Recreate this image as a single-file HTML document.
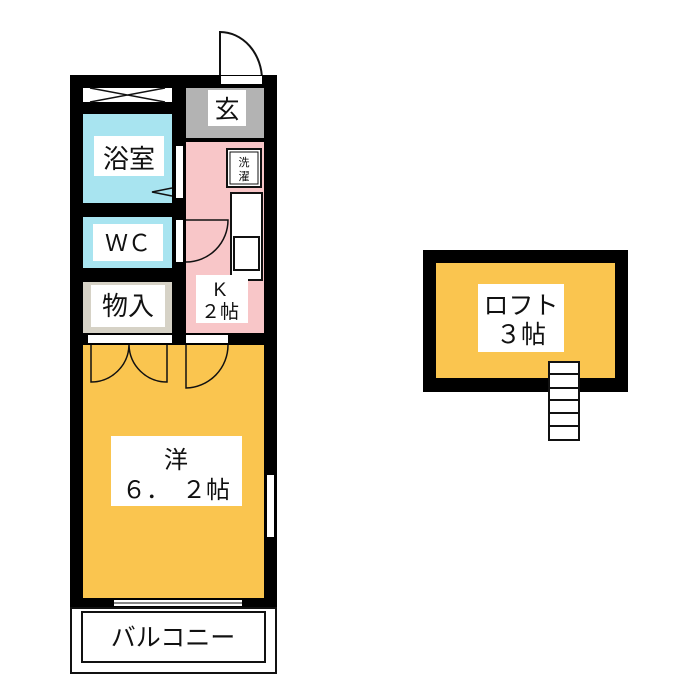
<!DOCTYPE html>
<html><head><meta charset="utf-8"><style>
html,body{margin:0;padding:0;background:#fff;width:700px;height:700px;overflow:hidden}
text{font-family:"Liberation Sans","Noto Sans CJK JP",sans-serif;fill:#111}
</style></head><body>
<svg width="700" height="700" viewBox="0 0 700 700" xmlns="http://www.w3.org/2000/svg">
<path d="M220 80 V32 A42 48 0 0 1 262 80" fill="none" stroke="#111" stroke-width="2"/>
<rect x="70" y="75" width="207" height="533" fill="#000"/>
<rect x="71" y="608" width="205" height="65" fill="#fff" stroke="#111" stroke-width="2"/>
<rect x="82" y="612" width="183" height="50" fill="#fff" stroke="#111" stroke-width="2"/>
<rect x="221" y="76" width="41" height="8" fill="#fff"/>
<rect x="83" y="88" width="89" height="14" fill="#fff"/>
<path d="M90 88 L165 102 M90 102 L165 88" stroke="#111" stroke-width="1.5"/>
<rect x="186" y="88" width="78" height="50" fill="#b3b3b3"/>
<rect x="208" y="90" width="38" height="36" fill="#fff"/>
<text x="227" y="118" font-size="25" text-anchor="middle">玄</text>
<rect x="186" y="142" width="78" height="191" fill="#f8c6c8"/>
<rect x="227" y="149" width="34" height="38" fill="#fff" stroke="#111" stroke-width="2"/>
<rect x="230" y="152" width="28" height="32" fill="#fff" stroke="#111" stroke-width="1"/>
<text x="244" y="166" font-size="11" text-anchor="middle">洗</text>
<text x="244" y="180" font-size="11" text-anchor="middle">濯</text>
<rect x="231" y="193" width="31" height="87" fill="#fff" stroke="#111" stroke-width="2"/>
<rect x="234" y="237" width="25" height="33" fill="#fff" stroke="#111" stroke-width="2"/>
<path d="M186 220 H228 A42 42 0 0 1 186 262" fill="none" stroke="#111" stroke-width="1.5"/>
<rect x="196" y="275" width="52" height="48" fill="#fff"/>
<text x="220" y="296" font-size="19" text-anchor="middle">K</text>
<text x="220" y="318" font-size="19" text-anchor="middle">２帖</text>
<rect x="83" y="114" width="89" height="89" fill="#a8e4f0"/>
<rect x="94" y="136" width="70" height="40" fill="#fff"/>
<text x="129" y="168" font-size="26" text-anchor="middle">浴室</text>
<rect x="176" y="146" width="7" height="52" fill="#fff"/>
<path d="M172 196 L152 192 L172 188" fill="none" stroke="#111" stroke-width="1.5"/>
<rect x="83" y="217" width="89" height="51" fill="#a8e4f0"/>
<rect x="93" y="224" width="70" height="37" fill="#fff"/>
<text x="128" y="251" font-size="23" text-anchor="middle">ＷＣ</text>
<rect x="176" y="220" width="7" height="42" fill="#fff"/>
<rect x="83" y="282" width="89" height="51" fill="#d6d2c6"/>
<rect x="91" y="285" width="74" height="42" fill="#fff"/>
<text x="128" y="315" font-size="26" text-anchor="middle">物入</text>
<rect x="83" y="345" width="181" height="253" fill="#fac54f"/>
<rect x="88" y="335" width="84" height="8" fill="#fff"/>
<rect x="186" y="335" width="42" height="8" fill="#fff"/>
<path d="M91 345 V382 A38 38 0 0 0 129 345 A38 38 0 0 0 167 382 V345" fill="none" stroke="#111" stroke-width="1.5"/>
<path d="M186 345 V388 A43 43 0 0 0 228 345" fill="none" stroke="#111" stroke-width="1.5"/>
<rect x="111" y="436" width="131" height="70" fill="#fff"/>
<text x="176" y="468" font-size="24" text-anchor="middle">洋</text>
<text x="176" y="498" font-size="24" text-anchor="middle">６．　２帖</text>
<rect x="267" y="475" width="7" height="62" fill="#fff"/>
<rect x="114" y="600" width="68" height="6" fill="#fff"/>
<rect x="178" y="600" width="64" height="6" fill="#fff"/>
<line x1="114" y1="603" x2="242" y2="603" stroke="#111" stroke-width="1"/>
<text x="173" y="646" font-size="25" text-anchor="middle">バルコニー</text>
<rect x="423" y="250" width="205" height="142" fill="#000"/>
<rect x="436" y="263" width="179" height="115" fill="#fac54f"/>
<rect x="478" y="284" width="86" height="68" fill="#fff"/>
<text x="521" y="314" font-size="25" text-anchor="middle">ロフト</text>
<text x="521" y="343" font-size="25" text-anchor="middle">３帖</text>
<rect x="549" y="362" width="30" height="78" fill="#fff" stroke="#111" stroke-width="2"/>
<path d="M549 374 H579 M549 388 H579 M549 400 H579 M549 413 H579 M549 426 H579" stroke="#111" stroke-width="2"/>
</svg>
</body></html>
